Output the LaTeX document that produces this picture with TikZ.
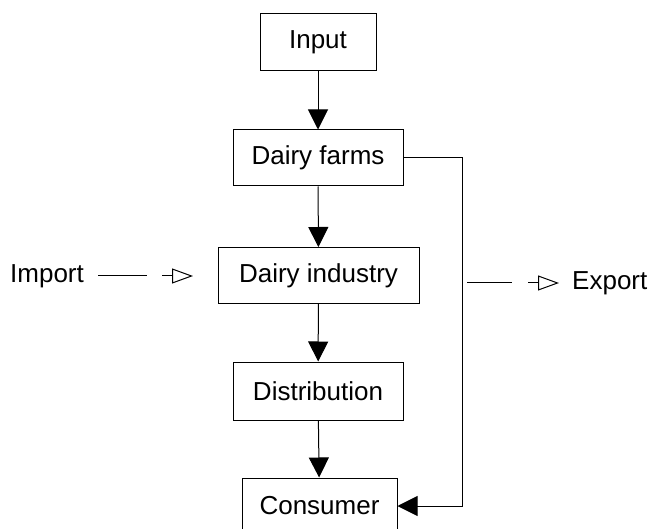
\documentclass[tikz,border=0pt]{standalone}
\usepackage{fontspec}
\setmainfont{Liberation Sans}
\usetikzlibrary{arrows.meta}

\begin{document}
\begin{tikzpicture}[x=1pt,y=-1pt,>={Triangle[length=20pt,width=20pt]},
  box/.style={draw,line width=1pt,inner sep=0pt,minimum height=56pt},
  lbl/.style={inner sep=0pt},
  every node/.style={font=\fontsize{26}{30}\selectfont},
  open/.style={-{Triangle[open,length=21pt,width=15pt]}}]
\useasboundingbox (0,0) rectangle (653,529);
% boxes of the chain
\node[box,minimum width=116pt,minimum height=57pt](input)at(318,42.5){Input};
\node[box,minimum width=170pt](farms)at(318,158){Dairy farms};
\node[box,minimum width=201pt](industry)at(318.5,275.5){Dairy industry};
\node[box,minimum width=170pt,minimum height=58pt](distrib)at(318,391){Distribution};
\node[box,minimum width=155pt](consumer)at(319.5,506){Consumer};
% chain arrows
\draw[->,line width=1pt](input)--(farms);
\draw[->,line width=1pt](farms)--(industry);
\draw[->,line width=1pt](industry)--(distrib);
\draw[->,line width=1pt](distrib)--(consumer);
% bypass to consumer
\coordinate(top)at(462,158);
\coordinate(bot)at(462,506);
\draw[->,line width=1pt](farms.east)--(top)--(bot)--(consumer.east);
% import and export
\node[lbl](import)at(47,276){Import};
\coordinate(i1)at(98,276);
\coordinate(i2)at(147,276);
\coordinate(i3)at(162,276);
\coordinate(i4)at(193,276);
\draw[line width=1pt](i1)--(i2);
\draw[open,line width=1pt](i3)--(i4);
\coordinate(e1)at(467,283);
\coordinate(e2)at(512,283);
\coordinate(e3)at(528,283);
\coordinate(e4)at(559,283);
\draw[line width=1pt](e1)--(e2);
\draw[open,line width=1pt](e3)--(e4);
\node[lbl,anchor=west](export)at(572,283){Export};
\end{tikzpicture}
\end{document}
